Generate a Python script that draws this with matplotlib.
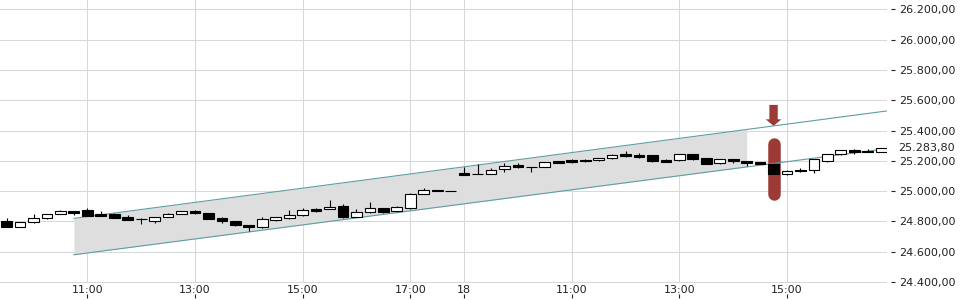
import numpy as np
import pandas as pd
import matplotlib
matplotlib.use("Agg")
import matplotlib.pyplot as plt
from matplotlib.transforms import blended_transform_factory

# 15-minute candles, two sessions
day1_times = pd.date_range("2024-01-17 09:30", "2024-01-17 17:45", freq="15min")
day2_times = pd.date_range("2024-01-18 09:00", "2024-01-18 16:45", freq="15min")

opens = [24803, 24765, 24794, 24820, 24847, 24869, 24873, 24847, 24851, 24829,
         24817, 24803, 24827, 24847, 24871, 24853, 24825, 24803, 24776, 24761,
         24811, 24825, 24840, 24882, 24880, 24902, 24831, 24860, 24887, 24867,
         24891, 24981, 25005, 24999,
         25122, 25114, 25111, 25144, 25170, 25161, 25157, 25197, 25205, 25203,
         25203, 25217, 25245, 25240, 25238, 25203, 25203, 25245, 25217, 25184,
         25210, 25197, 25192, 25180, 25115, 25141, 25137, 25201, 25245, 25271,
         25267, 25258]
highs = [24820, 24798, 24849, 24849, 24877, 24871, 24887, 24871, 24858, 24842,
         24825, 24829, 24858, 24871, 24873, 24855, 24829, 24805, 24778, 24829,
         24829, 24875, 24887, 24890, 24941, 24915, 24880, 24926, 24889, 24902,
         24986, 25021, 25007, 25000,
         25157, 25177, 25151, 25184, 25184, 25162, 25191, 25199, 25212, 25212,
         25219, 25242, 25267, 25250, 25240, 25214, 25245, 25247, 25219, 25212,
         25212, 25199, 25194, 25185, 25141, 25155, 25214, 25245, 25271, 25278,
         25276, 25286]
lows = [24763, 24763, 24792, 24818, 24846, 24842, 24836, 24837, 24824, 24810,
        24785, 24788, 24826, 24846, 24852, 24816, 24792, 24772, 24739, 24759,
        24805, 24818, 24838, 24862, 24879, 24822, 24829, 24858, 24856, 24865,
        24882, 24979, 25003, 24998,
        25107, 25112, 25110, 25128, 25151, 25128, 25156, 25186, 25184, 25195,
        25201, 25210, 25228, 25221, 25195, 25192, 25201, 25208, 25179, 25182,
        25188, 25166, 25177, 25112, 25104, 25129, 25120, 25194, 25238, 25247,
        25256, 25256]
closes = [24765, 24794, 24825, 24847, 24869, 24858, 24838, 24838, 24825, 24811,
          24815, 24827, 24847, 24869, 24853, 24818, 24801, 24774, 24761, 24816,
          24827, 24840, 24875, 24871, 24893, 24831, 24860, 24887, 24864, 24893,
          24981, 25007, 25004, 24999,
          25108, 25113, 25139, 25168, 25161, 25160, 25190, 25188, 25192, 25202,
          25217, 25240, 25230, 25227, 25197, 25194, 25243, 25210, 25181, 25210,
          25197, 25184, 25179, 25114, 25133, 25131, 25212, 25243, 25269, 25260,
          25258, 25283.8]

# trend channel (candle index, price)
channel_x = [5, 66]
channel_upper = [24820, 25536]
channel_lower = [24580, 25287]
channel_fill_end = 55

# highlighted candle
mark_idx = 57
mark_low, mark_high = 24941, 25352
arrow_bottom, arrow_top = 25430, 25569

y_ticks = [24400, 24600, 24800, 25000, 25200, 25400, 25600, 25800, 26000, 26200]


def de_fmt(v):
    s = f"{v:,.2f}"
    return s.replace(",", "X").replace(".", ",").replace("X", ".")


def main():
    times = list(day1_times) + list(day2_times)
    n = len(times)
    x = np.arange(n)
    o = np.array(opens, dtype=float)
    h = np.array(highs, dtype=float)
    l = np.array(lows, dtype=float)
    c = np.array(closes, dtype=float)

    fig = plt.figure(figsize=(9.6, 3.0), dpi=100)
    ax = fig.add_axes([0, 17 / 300, 887 / 960, 283 / 300])
    ax.set_xlim(-0.49, 65.43)
    ax.set_ylim(24393.6, 26261.4)

    grid_col = "#d8d8d8"
    ax.set_axisbelow(True)
    ax.grid(True, color=grid_col, linewidth=0.75)
    for s in ax.spines.values():
        s.set_visible(False)

    # channel
    fx = np.linspace(channel_x[0], channel_fill_end, 50)
    ax.fill_between(fx, np.interp(fx, channel_x, channel_lower),
                    np.interp(fx, channel_x, channel_upper),
                    color="#dedede", linewidth=0, zorder=1)
    red = "#9c3b36"
    # capsule marker behind the candle
    r = 6.3 / 0.1515
    ax.plot([mark_idx, mark_idx], [mark_low + r, mark_high - r], color=red,
            linewidth=9.0, solid_capstyle="round", zorder=2)
    ax.annotate("", xy=(mark_idx, arrow_bottom), xytext=(mark_idx, arrow_top),
                arrowprops=dict(arrowstyle="simple,head_length=4.8,head_width=11.3,tail_width=6",
                                mutation_scale=1, color=red, shrinkA=0, shrinkB=0,
                                linewidth=0),
                zorder=2)
    ax.plot(channel_x, channel_upper, color="#5f9ea0", linewidth=0.8, zorder=3)
    ax.plot(channel_x, channel_lower, color="#5f9ea0", linewidth=0.8, zorder=3)

    # candles
    up = c >= o
    ax.vlines(x, l, h, color="black", linewidth=0.8, zorder=4)
    ax.bar(x, np.abs(c - o), bottom=np.minimum(o, c), width=0.8,
           color=np.where(up, "white", "black"), edgecolor="black",
           linewidth=0.8, zorder=5)

    # x axis labels
    tick_pos, tick_lab = [], []
    for i, t in enumerate(times):
        if i > 0 and t.day != times[i - 1].day:
            tick_pos.append(i)
            tick_lab.append(str(t.day))
        elif t.minute == 0 and t.hour % 2 == 1 and t.hour >= 11:
            tick_pos.append(i)
            tick_lab.append(t.strftime("%H:%M"))
    ax.set_xticks(tick_pos)
    ax.set_xticklabels(tick_lab)
    ax.tick_params(axis="x", length=0, pad=1.5, labelsize=8, labelcolor="#222222")
    sec = ax.secondary_xaxis(-0.04)
    sec.set_xticks(tick_pos)
    sec.set_xticklabels([])
    sec.tick_params(axis="x", length=3, width=0.8, color="#222222", direction="out")
    sec.spines["bottom"].set_visible(False)

    # y axis on the right
    ax.yaxis.tick_right()
    ax.spines["right"].set_position(("outward", 3))
    ax.set_yticks(y_ticks)
    ax.set_yticklabels([de_fmt(v) for v in y_ticks])
    ax.tick_params(axis="y", length=3, width=0.8, color="#222222", pad=3,
                   labelsize=8, labelcolor="#222222")

    trans = blended_transform_factory(ax.transAxes, ax.transData)
    ax.annotate(de_fmt(c[-1]), xy=(1.0, c[-1]), xycoords=trans,
                xytext=(8, 0), textcoords="offset points", va="center",
                ha="left", fontsize=8, color="#222222", annotation_clip=False)

    fig.savefig("out.png", dpi=100)
    plt.close(fig)


if __name__ == "__main__":
    main()
